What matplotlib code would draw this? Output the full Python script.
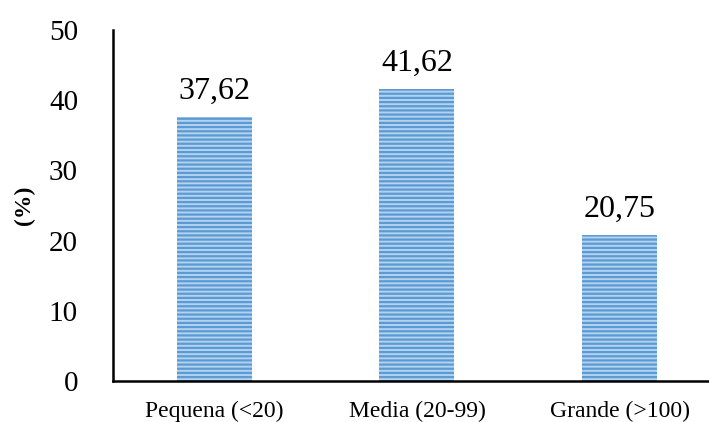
import matplotlib.pyplot as plt

# datos
categorias = ["Pequena (<20)", "Media (20-99)", "Grande (>100)"]
porcentajes = [37.62, 41.62, 20.75]
etiquetas = ["37,62", "41,62", "20,75"]

plt.rcParams['font.family'] = ['Liberation Serif', 'DejaVu Serif']
plt.rcParams['hatch.linewidth'] = 1.6

fig = plt.figure(figsize=(7.09, 4.22), dpi=100)
ax = fig.add_axes([0.159, 0.097, 0.841, 0.832])

posiciones = range(len(categorias))
barras = ax.bar(posiciones, porcentajes, width=0.37, color='#b4d2ee',
                edgecolor='#5b9bd5', linewidth=0, hatch='----')

for barra, texto in zip(barras, etiquetas):
    ax.annotate(texto, (barra.get_x() + barra.get_width() / 2, barra.get_height()),
                xytext=(0, 8), textcoords='offset points',
                ha='center', va='bottom', fontsize=23)

ax.set_ylim(0, 50)
ax.set_xlim(-0.5, 2.44)
ax.set_yticks([0, 10, 20, 30, 40, 50])
ax.set_xticks(list(posiciones))
ax.set_xticklabels(categorias, fontsize=17)
ax.tick_params(axis='y', labelsize=21, length=0, pad=25)
ax.tick_params(axis='x', length=0, pad=14)
ax.set_ylabel("(%)", fontsize=17, fontweight='bold', labelpad=10)

for lado in ['top', 'right']:
    ax.spines[lado].set_visible(False)
for lado in ['left', 'bottom']:
    ax.spines[lado].set_linewidth(1.8)

fig.savefig("out.png", dpi=100)
